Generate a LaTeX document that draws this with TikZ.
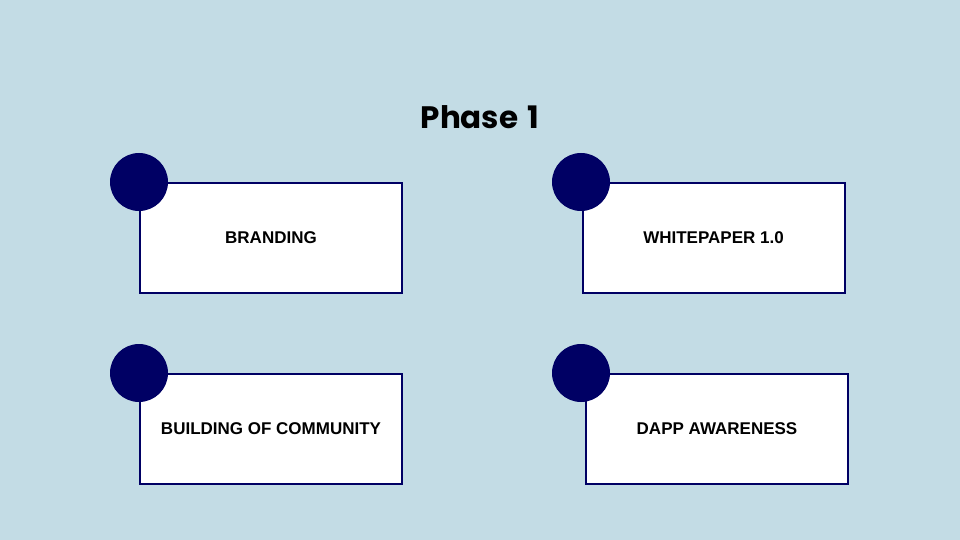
\documentclass[tikz,border=0pt]{standalone}
\usepackage{fontspec}
\setmainfont{Poppins}
\newfontfamily\boxfont{Liberation Sans}
\usepackage{tikz}
\usetikzlibrary{positioning}
\definecolor{bgblue}{RGB}{195,220,229}
\definecolor{navy}{RGB}{0,0,100}
\tikzset{phasebox/.style={draw=navy, line width=2pt, fill=white, minimum width=262pt, minimum height=110pt, inner sep=0pt, font=\boxfont\fontsize{17}{20}\selectfont\bfseries},
    dot/.style={circle, fill=navy, minimum size=58pt, inner sep=0pt}}

\begin{document}
\begin{tikzpicture}[x=1pt,y=-1pt]
                 \fill[bgblue](0,0) rectangle (960,540);
                 \useasboundingbox(0,0) rectangle (960,540);
                 \node[font=\fontsize{31}{36}\selectfont\bfseries](title)at(480,117){Phase\hspace{0.3em}1};
                 \node[phasebox](branding)at(271,238){BRANDING};
                 \node[phasebox](white)at(713.5,238){WHITEPAPER 1.0};
                 \node[phasebox](community)at(271,429){BUILDING OF COMMUNITY};
                 \node[phasebox](dapp)at(717,429){DAPP AWARENESS};
                 \node[dot](dotA)at(139,182){};
                 \node[dot](dotB)at(581,182){};
                 \node[dot](dotC)at(139,373){};
                 \node[dot](dotD)at(581,373){};
             \end{tikzpicture}
\end{document}
